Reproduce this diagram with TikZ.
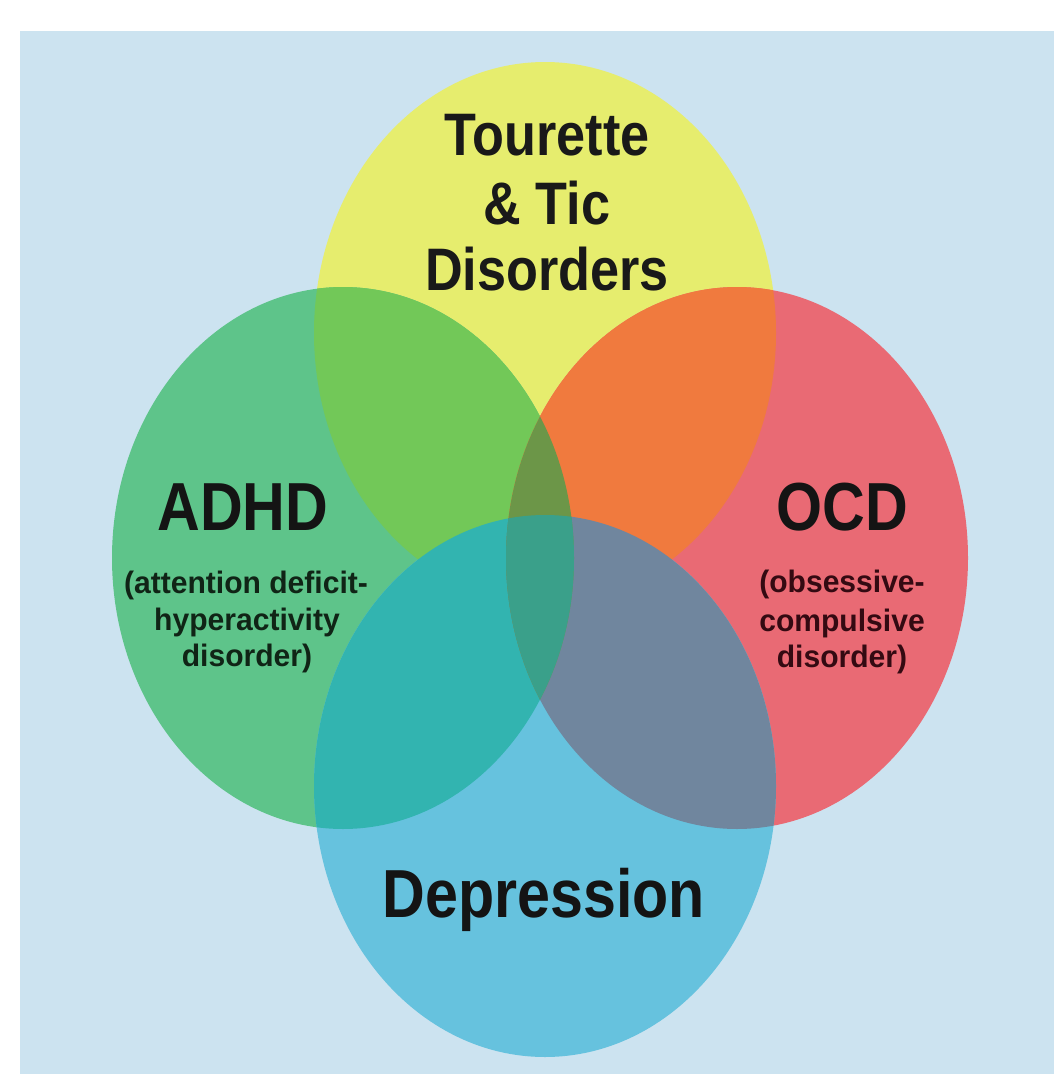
\documentclass[tikz,border=0pt]{standalone}
\usepackage{fontspec}
\setmainfont{Liberation Sans}
\newfontfamily\bigf{Liberation Sans}[FakeStretch=0.87]
\newfontfamily\smallf{Liberation Sans}[FakeStretch=0.97]
\definecolor{bgc}{RGB}{204,227,240}
\definecolor{yel}{RGB}{230,237,110}
\definecolor{grn}{RGB}{94,196,138}
\definecolor{red}{RGB}{233,106,116}
\definecolor{blu}{RGB}{102,194,222}
\definecolor{yg}{RGB}{114,200,88}
\definecolor{yr}{RGB}{240,122,62}
\definecolor{gb}{RGB}{50,180,176}
\definecolor{rb}{RGB}{112,134,158}
\definecolor{gr}{RGB}{108,150,72}
\definecolor{grb}{RGB}{58,160,138}
\definecolor{txtg}{RGB}{16,36,22}
\definecolor{txtr}{RGB}{52,10,18}
\def\Yel{(545,333) ellipse [x radius=231pt, y radius=271pt]}
\def\Grn{(343,558) ellipse [x radius=231pt, y radius=271pt]}
\def\Red{(737,558) ellipse [x radius=231pt, y radius=271pt]}
\def\Blu{(545,786) ellipse [x radius=231pt, y radius=271pt]}
\tikzset{
  bigl/.style={anchor=base, inner sep=0pt, font=\bigf\bfseries\fontsize{60}{66}\selectfont, text=black!90},
  hugel/.style={anchor=base, inner sep=0pt, font=\bigf\bfseries\fontsize{68}{74}\selectfont, text=black!92},
  smalll/.style={anchor=base, inner sep=0pt, font=\smallf\bfseries\fontsize{31}{35}\selectfont}
}
\begin{document}
\begin{tikzpicture}[x=1pt,y=-1pt]
\useasboundingbox (0,0) rectangle (1054,1074);
\fill[bgc] (20,31) rectangle (1054,1074);
% single sets
\fill[yel] \Yel;
\fill[grn] \Grn;
\fill[red] \Red;
\fill[blu] \Blu;
% pairwise overlaps
\begin{scope}\clip \Yel; \fill[yg] \Grn; \end{scope}
\begin{scope}\clip \Yel; \fill[yr] \Red; \end{scope}
\begin{scope}\clip \Grn; \fill[gb] \Blu; \end{scope}
\begin{scope}\clip \Red; \fill[rb] \Blu; \end{scope}
\begin{scope}\clip \Grn; \fill[gr] \Red; \end{scope}
\begin{scope}\clip \Grn; \clip \Red; \fill[grb] \Blu; \end{scope}
% labels
\node[bigl] (t1) at (547,155) {Tourette};
\node[bigl] (t2) at (547,224) {\&~Tic};
\node[bigl] (t3) at (547,290) {Disorders};
\node[hugel] (adhd) at (243,530) {ADHD};
\node[smalll, text=txtg] (a1) at (246,593) {(attention deficit-};
\node[smalll, text=txtg] (a2) at (247,630) {hyperactivity};
\node[smalll, text=txtg] (a3) at (247,666) {disorder)};
\node[hugel] (ocd) at (842,530) {OCD};
\node[smalll, text=txtr] (o1) at (842,592) {(obsessive-};
\node[smalll, text=txtr] (o2) at (842,631) {compulsive};
\node[smalll, text=txtr] (o3) at (842,667) {disorder)};
\node[hugel] (dep) at (544,917) {Depression};
\end{tikzpicture}
\end{document}
